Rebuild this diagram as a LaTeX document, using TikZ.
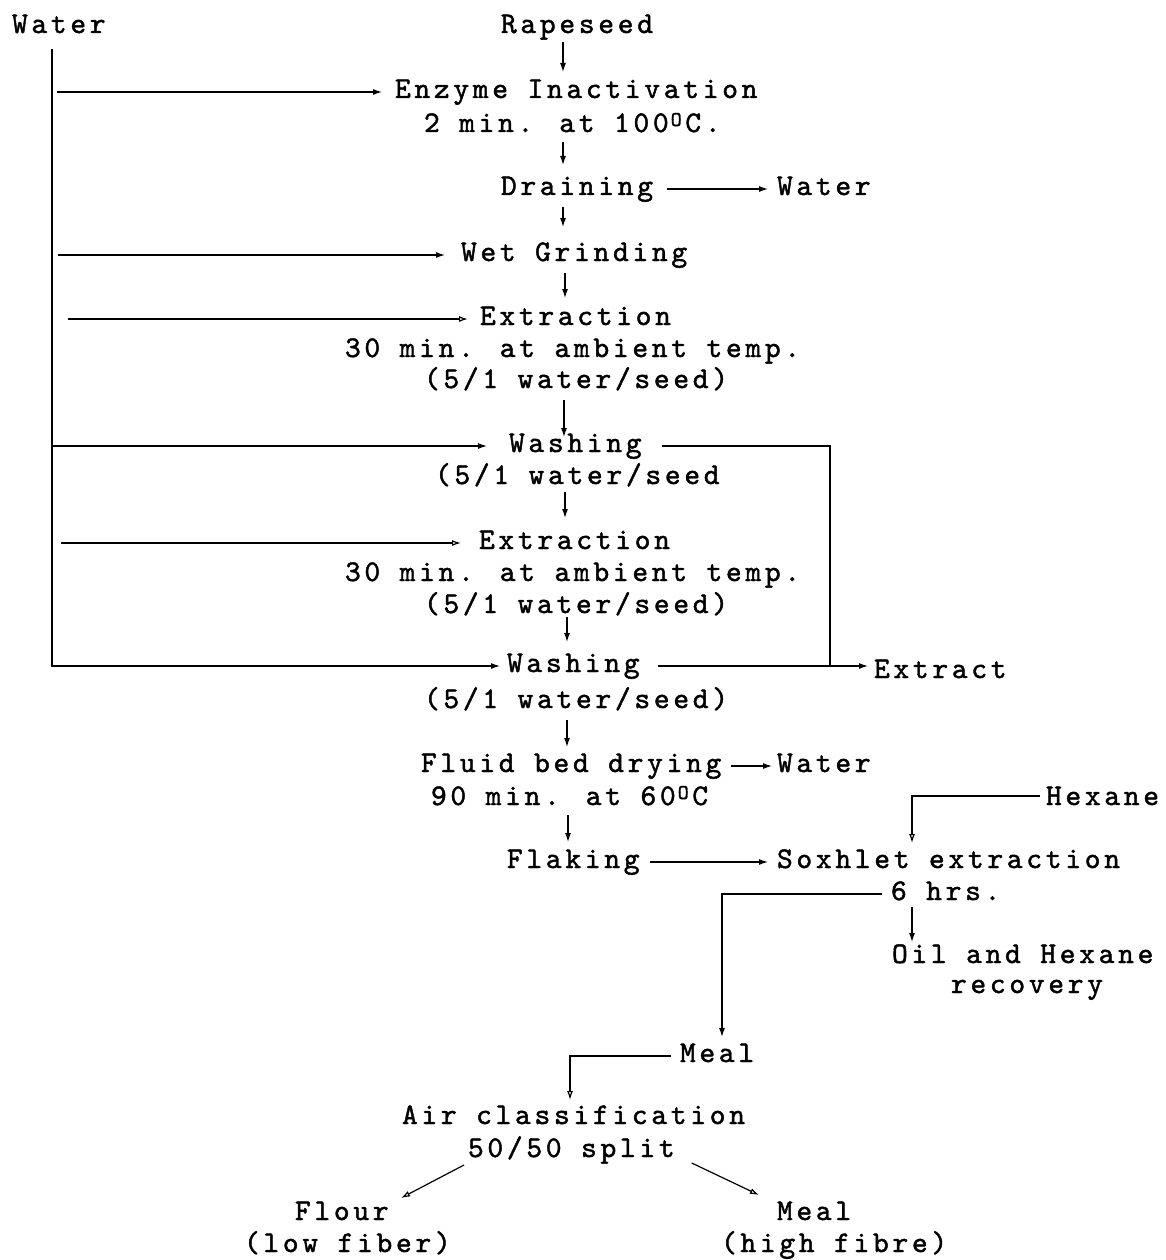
\documentclass[tikz,border=0pt]{standalone}
\usepackage{fontspec}
\newfontfamily\tw[LetterSpace=12.4,FakeBold=1.5]{lmmono10-regular.otf}
\usetikzlibrary{arrows.meta,calc}
\newcommand\supO{\kern2pt\raisebox{6pt}{\fontsize{21}{21}\selectfont O}\kern3.6pt}
\begin{document}
\begin{tikzpicture}[x=1pt,y=-1pt,
  txt/.style={inner sep=0pt, outer sep=0pt, anchor=base west, text height=12pt, text depth=0pt, font={\tw\fontsize{30}{30}\selectfont}},
  ln/.style={line width=1.2pt},
  arr/.style={ln, -{Latex[length=9pt,width=6pt]}},
  oarr/.style={ln, -{Latex[open,length=9pt,width=6pt]}},
]
\useasboundingbox[fill=white] (0,0) rectangle (1165,1260);
% text nodes
\node[txt] (wat) at (12,33) {Water};
\node[txt] (rape) at (501,33) {Rapeseed};
\node[txt] (enz) at (395,98) {Enzyme Inactivation};
\node[txt] (enzb) at (424,132) {2 min. at 100\supO C.};
\node[txt] (drain) at (501,195) {Draining};
\node[txt] (watd) at (777,195) {Water};
\node[txt] (wet) at (461,261) {Wet Grinding};
\node[txt] (exa) at (480,325) {Extraction};
\node[txt] (exab) at (345,357) {30 min. at ambient temp.};
\node[txt] (exac) at (424,388) {(5/1 water/seed)};
\node[txt] (wsa) at (509,452) {Washing};
\node[txt] (wsab) at (435,484) {(5/1 water/seed};
\node[txt] (exb) at (479,549) {Extraction};
\node[txt] (exbb) at (345,581) {30 min. at ambient temp.};
\node[txt] (exbc) at (424,613) {(5/1 water/seed)};
\node[txt] (wsb) at (507,672) {Washing};
\node[txt] (wsbb) at (424,708) {(5/1 water/seed)};
\node[txt] (extr) at (874,678) {Extract};
\node[txt] (fbd) at (421,772) {Fluid bed drying};
\node[txt] (fbdb) at (431,805) {90 min. at 60\supO C};
\node[txt] (watf) at (777,772) {Water};
\node[txt] (flak) at (507,868) {Flaking};
\node[txt] (sox) at (777,868) {Soxhlet extraction};
\node[txt] (hex) at (1046,805) {Hexane};
\node[txt] (soxb) at (891,900) {6 hrs.};
\node[txt] (oil) at (892,963) {Oil and Hexane};
\node[txt] (oilb) at (951,993) {recovery};
\node[txt] (meal) at (680,1062) {Meal};
\node[txt] (air) at (402,1124) {Air classification};
\node[txt] (airb) at (468,1157) {50/50 split};
\node[txt] (flour) at (295,1220) {Flour};
\node[txt] (flourb) at (244,1252) {(low fiber)};
\node[txt] (mealh) at (777,1220) {Meal};
\node[txt] (mealhb) at (721,1252) {(high fibre)};
% helper coordinates
\coordinate (wtop) at (52,49);
\coordinate (sp) at (565,0);
\coordinate (rj) at (830,0);
\coordinate (hx) at (912,0);
\coordinate (mx) at (722,0);
\coordinate (ax) at (570,0);
% water feed lines
\draw[arr] (wtop) -- (wtop |- wsb.west) -- ($(wsb.west)+(-7,0)$);
\draw[arr] ($(wtop |- enz.west)+(5,0)$) -- ($(enz.west)+(-13,0)$);
\draw[arr] ($(wtop |- wet.west)+(6,0)$) -- ($(wet.west)+(-16,0)$);
\draw[oarr] ($(wtop |- exa.west)+(16,0)$) -- ($(exa.west)+(-12,0)$);
\draw[arr] (wtop |- wsa.west) -- ($(wsa.west)+(-22,0)$);
\draw[oarr] ($(wtop |- exb.west)+(9,0)$) -- ($(exb.west)+(-18,0)$);
% main vertical flow
\draw[arr] ($(sp |- rape.base)+(-2,9)$) -- ($(sp |- enz.base)+(-2,-26)$);
\draw[arr] ($(sp |- enzb.base)+(-2,10)$) -- ($(sp |- drain.base)+(-2,-30)$);
\draw[arr] ($(sp |- drain.base)+(-2,12)$) -- ($(sp |- wet.base)+(-2,-34)$);
\draw[arr] ($(sp |- wet.base)+(0,12)$) -- ($(sp |- exa.base)+(0,-27)$);
\draw[arr] ($(sp |- exac.base)+(-1,12)$) -- ($(sp |- wsa.base)+(-1,-15)$);
\draw[arr] ($(sp |- wsab.base)+(0,8)$) -- ($(sp |- exb.base)+(0,-31)$);
\draw[arr] ($(sp |- exbc.base)+(2,4)$) -- ($(sp |- wsb.base)+(2,-30)$);
\draw[arr] ($(sp |- wsbb.base)+(2,12)$) -- ($(sp |- fbd.base)+(2,-25)$);
\draw[arr] ($(sp |- fbdb.base)+(3,10)$) -- ($(sp |- flak.base)+(3,-26)$);
% side outputs
\draw[arr] ($(drain.east)+(14,0)$) -- ($(watd.west)+(-9,0)$);
\draw[ln] ($(wsa.east)+(20,0)$) -- (rj |- wsa.east) -- (rj |- wsb.east);
\draw[arr] ($(wsb.east)+(18,0)$) -- ($(extr.west |- wsb.east)+(-6,0)$);
\draw[arr] ($(fbd.east)+(10,0)$) -- ($(watf.west)+(-5,0)$);
\draw[arr] ($(flak.east)+(10,0)$) -- ($(sox.west)+(-9,0)$);
% soxhlet
\draw[oarr] ($(hex.west)+(-6,-3)$) -- ($(hx |- hex.west)+(0,-3)$) -- ($(hx |- sox.base)+(0,-25)$);
\draw[arr] ($(hx |- soxb.base)+(0,7)$) -- ($(hx |- oil.base)+(0,-21)$);
\draw[arr] ($(soxb.west)+(-9,0)$) -- (mx |- soxb.west) -- ($(mx |- meal.base)+(0,-25)$);
% meal and air classification
\draw[oarr] ($(meal.west)+(-9,0)$) -- (ax |- meal.west) -- ($(ax |- air.base)+(0,-24)$);
\draw[oarr] ($(airb.base west)+(-4,8)$) -- ($(flour.base west)+(106,-22)$);
\draw[oarr] ($(airb.base east)+(17,6)$) -- ($(mealh.base west)+(-18,-25)$);
\end{tikzpicture}
\end{document}
